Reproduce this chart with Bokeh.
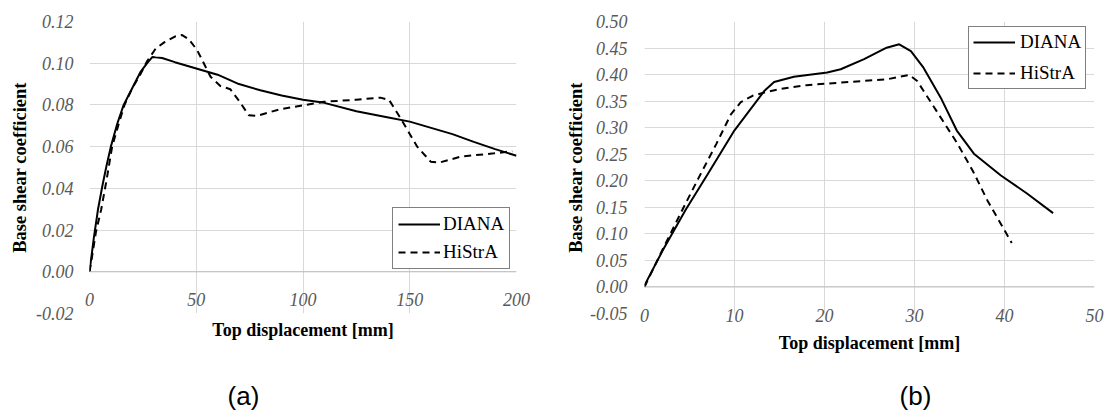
from bokeh.plotting import figure
from bokeh.models import (Range1d, FixedTicker, NumeralTickFormatter, Span, Legend,
                          LegendItem, Label)
from bokeh.layouts import row, column
from bokeh.embed import file_html
from bokeh.resources import INLINE

# ---------------- data: chart (a) ----------------
A_XTICKS = [0, 50, 100, 150, 200]
A_YTICKS = [-0.02, 0.0, 0.02, 0.04, 0.06, 0.08, 0.10, 0.12]
A_DIANA_X = [0, 1, 2, 4, 6, 8, 10, 13, 16, 20, 24, 27, 29.5, 31, 34, 40, 50, 60, 70, 80,
             90, 100, 110, 125, 140, 150, 160, 170, 180, 190, 200]
A_DIANA_Y = [0.0, 0.008, 0.016, 0.030, 0.041, 0.051, 0.060, 0.071, 0.080, 0.088, 0.096,
             0.100, 0.103, 0.1028, 0.1025, 0.1005, 0.0975, 0.0945, 0.090, 0.087, 0.0845,
             0.0825, 0.081, 0.077, 0.074, 0.072, 0.069, 0.066, 0.0623, 0.0588, 0.0556]
A_HISTRA_X = [0, 1, 3, 5.5, 8, 10.6, 14, 16.4, 20, 24, 27, 31, 35, 40, 43.4, 46.5, 50.4,
              54, 56.7, 61.4, 66, 70, 74.6, 78.5, 89.5, 109.7, 125, 136.3, 140.3, 145.7,
              153.5, 159.8, 163.7, 173.9, 189.5, 198]
A_HISTRA_Y = [0.0, 0.006, 0.019, 0.030, 0.044, 0.060, 0.072, 0.080, 0.088, 0.095, 0.101,
              0.107, 0.110, 0.1128, 0.1135, 0.1115, 0.1063, 0.099, 0.0935, 0.089, 0.0875,
              0.082, 0.0751, 0.0748, 0.078, 0.0815, 0.0825, 0.0835, 0.0824, 0.0736, 0.060,
              0.0528, 0.0523, 0.0552, 0.0568, 0.0578]

# ---------------- data: chart (b) ----------------
B_XTICKS = [0, 10, 20, 30, 40, 50]
B_YTICKS = [-0.05, 0.0, 0.05, 0.10, 0.15, 0.20, 0.25, 0.30, 0.35, 0.40, 0.45, 0.50]
B_DIANA_X = [0, 2, 4.56, 7, 10, 13.3, 14.4, 16.6, 20.3, 21.8, 24.4, 26.9, 28.3, 29.6, 31,
             32.9, 34.7, 36.6, 39.6, 42.5, 45.4]
B_DIANA_Y = [0.003, 0.068, 0.145, 0.212, 0.295, 0.369, 0.386, 0.396, 0.404, 0.410, 0.429,
             0.4506, 0.457, 0.444, 0.413, 0.357, 0.2946, 0.251, 0.210, 0.176, 0.139]
B_HISTRA_X = [0, 2, 4.2, 6, 8, 9.6, 10.7, 12, 13.5, 15.1, 18, 21.8, 26.9, 29.4, 30.3,
              32.5, 34.7, 36.5, 38.1, 40.8]
B_HISTRA_Y = [0.0, 0.070, 0.145, 0.205, 0.270, 0.325, 0.348, 0.360, 0.367, 0.373, 0.380,
              0.385, 0.391, 0.3994, 0.388, 0.330, 0.272, 0.218, 0.163, 0.083]

SERIES_NAMES = ["DIANA", "HiStrA"]
X_TITLE = "Top displacement [mm]"
Y_TITLE = "Base shear coefficient"
CAPTIONS = ["(a)", "(b)"]

SERIF = "Liberation Serif"
GRID = "#d9d9d9"
TICK_COLOR = "#595959"
MAIN_H = 372
CAP_H = 44


def make_chart(width, xr, yr, xticks, yticks, series, borders, ylab_standoff,
               yttl_standoff, xlab_standoff, xttl_standoff, legend_loc, legend_spacing,
               legend_pad, legend_standoff):
    p = figure(width=width, height=MAIN_H, output_backend="svg", toolbar_location=None,
               x_range=Range1d(*xr), y_range=Range1d(*yr),
               min_border_left=borders[0], min_border_right=borders[1],
               min_border_top=borders[2], min_border_bottom=borders[3])
    p.outline_line_color = None
    p.background_fill_color = "white"
    p.border_fill_color = "white"

    p.xgrid.ticker = FixedTicker(ticks=xticks)
    p.ygrid.ticker = FixedTicker(ticks=yticks)
    p.xgrid.grid_line_color = GRID
    p.ygrid.grid_line_color = GRID

    ya = p.yaxis[0]
    ya.ticker = FixedTicker(ticks=yticks)
    ya.formatter = NumeralTickFormatter(format="0.00")
    ya.axis_line_color = None
    ya.major_tick_out = 0
    ya.major_tick_in = 0
    ya.minor_tick_out = 0
    ya.minor_tick_in = 0
    ya.major_label_text_font = SERIF
    ya.major_label_text_font_style = "italic"
    ya.major_label_text_font_size = "18px"
    ya.major_label_text_color = TICK_COLOR
    ya.major_label_standoff = ylab_standoff
    ya.axis_label = Y_TITLE
    ya.axis_label_text_font = SERIF
    ya.axis_label_text_font_style = "bold"
    ya.axis_label_text_font_size = "18.5px"
    ya.axis_label_text_color = "black"
    ya.axis_label_standoff = yttl_standoff

    xa = p.xaxis[0]
    xa.ticker = FixedTicker(ticks=xticks)
    xa.axis_line_color = None
    xa.major_tick_out = 0
    xa.major_tick_in = 0
    xa.minor_tick_out = 0
    xa.minor_tick_in = 0
    xa.major_label_text_font = SERIF
    xa.major_label_text_font_style = "italic"
    xa.major_label_text_font_size = "18px"
    xa.major_label_text_color = TICK_COLOR
    xa.major_label_standoff = xlab_standoff
    xa.axis_label = X_TITLE
    xa.axis_label_text_font = SERIF
    xa.axis_label_text_font_style = "bold"
    xa.axis_label_text_font_size = "18px"
    xa.axis_label_text_color = "black"
    xa.axis_label_standoff = xttl_standoff

    p.add_layout(Span(location=0, dimension="width", line_color="#bfbfbf", line_width=1))

    r1 = p.line(series[0][0], series[0][1], line_color="black", line_width=2)
    r2 = p.line(series[1][0], series[1][1], line_color="black", line_width=2,
                line_dash="7 5")

    leg = Legend(items=[LegendItem(label=SERIES_NAMES[0], renderers=[r1]),
                        LegendItem(label=SERIES_NAMES[1], renderers=[r2])],
                 location=legend_loc)
    leg.border_line_color = "black"
    leg.border_line_width = 1
    leg.background_fill_color = "white"
    leg.background_fill_alpha = 1
    leg.label_text_font = SERIF
    leg.label_text_font_size = "19px"
    leg.label_text_color = "black"
    leg.glyph_width = 42
    leg.glyph_height = 22
    leg.label_height = 22
    leg.label_standoff = legend_standoff
    leg.spacing = legend_spacing
    leg.padding = legend_pad
    leg.margin = 0
    p.add_layout(leg)
    return p


def make_caption(width, text, cx):
    c = figure(width=width, height=CAP_H, output_backend="svg", toolbar_location=None,
               x_range=Range1d(0, width), y_range=Range1d(0, CAP_H),
               x_axis_type=None, y_axis_type=None, min_border=0)
    c.outline_line_color = None
    c.grid.visible = False
    c.add_layout(Label(x=cx, y=CAP_H / 2 - 1, text=text, text_align="center",
                       text_baseline="middle", text_font="Liberation Sans",
                       text_font_size="26px", text_color="black"))
    return c


pa = make_chart(558, (0, 200), (-0.02, 0.12), A_XTICKS, A_YTICKS,
                [(A_DIANA_X, A_DIANA_Y), (A_HISTRA_X, A_HISTRA_Y)],
                (89, 42, 21, MAIN_H - 313), 16, 3, -21, 11, (303, 44), 6, 5, 3)
pb = make_chart(550, (0, 50), (-0.05, 0.50), B_XTICKS, B_YTICKS,
                [(B_DIANA_X, B_DIANA_Y), (B_HISTRA_X, B_HISTRA_Y)],
                (86, 14, 20, MAIN_H - 314), 17, 1, -5, 8, (324, 224), 9, 4, 5)
ca = make_caption(558, CAPTIONS[0], 243)
cb = make_caption(550, CAPTIONS[1], 357)

layout = column(row(pa, pb), row(ca, cb))
open("out.html", "w").write(file_html(layout, INLINE))
